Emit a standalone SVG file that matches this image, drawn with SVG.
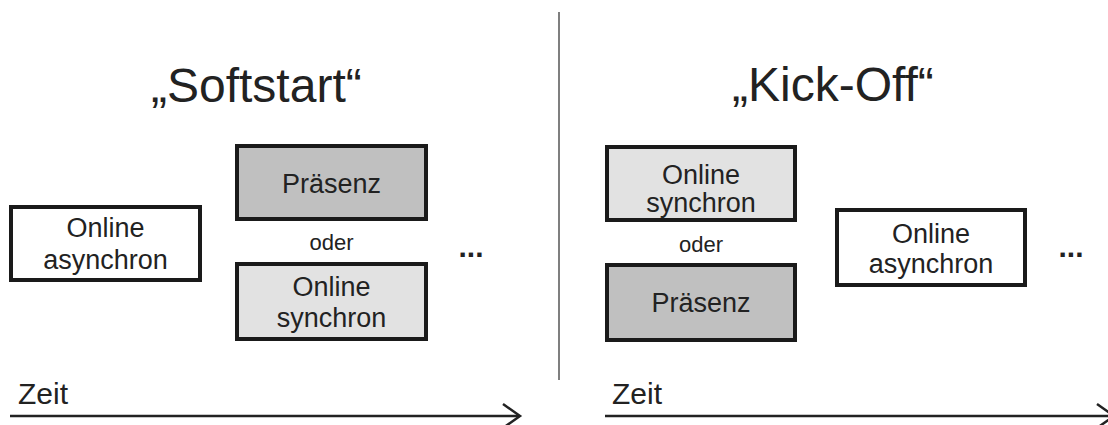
<svg xmlns="http://www.w3.org/2000/svg" width="1108" height="425" viewBox="0 0 1108 425">
<style>
text{font-family:"Liberation Sans",Arial,sans-serif;fill:#222}
.title{font-size:48px}
.lbl{font-size:27px;text-anchor:middle}
.oder{font-size:22px;text-anchor:middle}
.dots{font-size:30px;font-weight:bold;text-anchor:middle}
.zeit{font-size:30px}
.box{stroke:#1a1a1a;stroke-width:4}
.axis{stroke:#222;stroke-width:2.5;fill:none}
</style>
<rect width="1108" height="425" fill="#fff"/>
<g id="titles">
<text class="title" x="151" y="102">„Softstart“</text>
<text class="title" x="732" y="101">„Kick-Off“</text>
</g>
<g id="divider"><line x1="559" y1="12" x2="559" y2="380" stroke="#555" stroke-width="1.5"/></g>
<g id="left-online-async">
<rect class="box" x="11" y="207" width="189" height="73" fill="#fff"/>
<text class="lbl" x="105.5" y="237">Online</text>
<text class="lbl" x="105.5" y="269">asynchron</text>
</g>
<g id="left-praesenz">
<rect class="box" x="237" y="146" width="189" height="73" fill="#c0c0c0"/>
<text class="lbl" x="331.5" y="193">Präsenz</text>
</g>
<g id="left-oder"><text class="oder" x="331.5" y="250">oder</text></g>
<g id="left-online-sync">
<rect class="box" x="237" y="264" width="189" height="75" fill="#e2e2e2"/>
<text class="lbl" x="331.5" y="296">Online</text>
<text class="lbl" x="331.5" y="327">synchron</text>
</g>
<g id="left-dots"><text class="dots" x="471" y="257">...</text></g>
<g id="right-online-sync">
<rect class="box" x="607" y="147" width="188" height="73" fill="#e2e2e2"/>
<text class="lbl" x="701" y="184">Online</text>
<text class="lbl" x="701" y="212">synchron</text>
</g>
<g id="right-oder"><text class="oder" x="701" y="252">oder</text></g>
<g id="right-praesenz">
<rect class="box" x="607" y="265" width="188" height="75" fill="#c0c0c0"/>
<text class="lbl" x="701" y="312">Präsenz</text>
</g>
<g id="right-online-async">
<rect class="box" x="837" y="210" width="188" height="75" fill="#fff"/>
<text class="lbl" x="931" y="243">Online</text>
<text class="lbl" x="931" y="273">asynchron</text>
</g>
<g id="right-dots"><text class="dots" x="1071" y="257">...</text></g>
<g id="connectors">
<text class="zeit" x="18" y="404">Zeit</text>
<line class="axis" x1="10" y1="416" x2="519" y2="416"/>
<polyline class="axis" points="503,404 520,416 503,428"/>
<text class="zeit" x="612" y="404">Zeit</text>
<line class="axis" x1="605" y1="416" x2="1108" y2="416"/>
<polyline class="axis" points="1097,404 1114,416 1097,428"/>
</g>
</svg>
